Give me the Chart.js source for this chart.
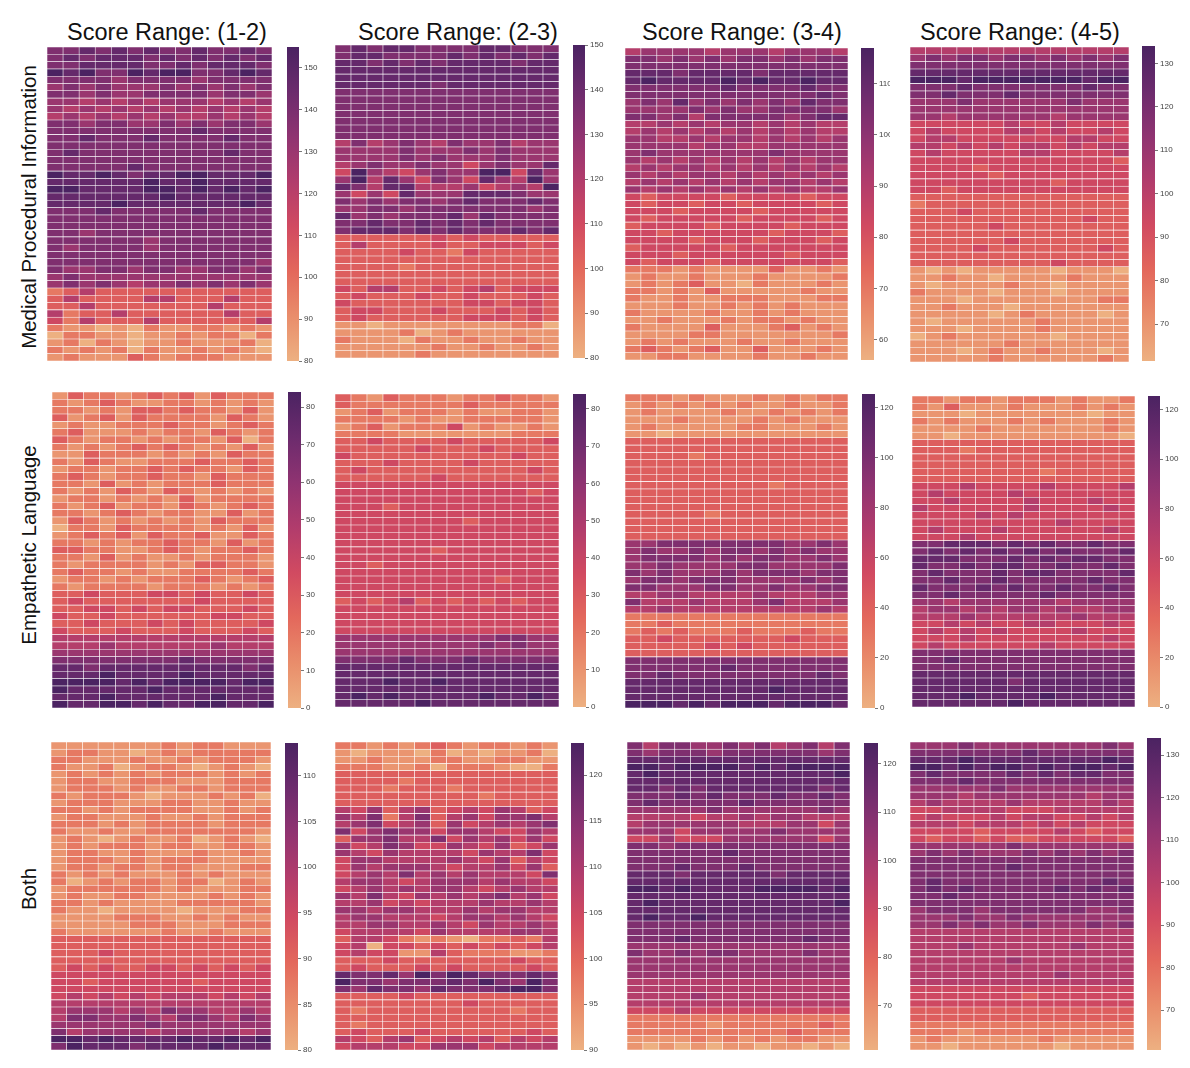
<!DOCTYPE html>
<html>
<head>
<meta charset="utf-8">
<script src="https://cdn.jsdelivr.net/npm/chart.js@4.4.1/dist/chart.umd.min.js"></script>
<style>
html,body{margin:0;padding:0;background:#fff;}
body{width:1190px;height:1068px;position:relative;overflow:hidden;font-family:"Liberation Sans",Arial,Helvetica,sans-serif;}
.box{position:absolute;}
.box canvas{display:block;}
.colTitle{position:absolute;width:260px;text-align:center;font-size:23.5px;line-height:26px;color:#111;white-space:nowrap;}
.rowTitle{position:absolute;width:400px;text-align:center;font-size:20.5px;line-height:24px;color:#111;white-space:nowrap;transform:translate(-50%,-50%) rotate(-90deg);}
</style>
</head>
<body>
<script>
// ---------------- DATA ----------------
// Column headers (score ranges) and row headers (prompt types)
const scoreRanges = ['Score Range: (1-2)', 'Score Range: (2-3)', 'Score Range: (3-4)', 'Score Range: (4-5)'];
const promptTypes = ['Medical Procedural Information', 'Empathetic Language', 'Both'];
// 14 columns per heatmap
const columns = ['1','2','3','4','5','6','7','8','9','10','11','12','13','14'];
// Colour-bar ranges [min, max] and tick steps, panels in reading order
const colorbarRanges = [[80,155],[80,150],[56,117],[61.5,134],[0,84],[0,84],[0,125.5],[0,125.5],[80,113.6],[90,123.5],[60.8,124.3],[60.6,134]];
const colorbarSteps = [10,10,10,10,10,10,20,20,5,5,10,10];

// Cell values, one string per row (top to bottom), one digit per column.
// Digit d = level on that panel's colour bar: value = min + d*(max-min)/9.
const medical_1_2 = [
"77878787787787","78788878787878","77888877878887","98977989977898","77776777767777",
"67676667676767","77676677776776","66565656665656","65656565656565","56565656556565",
"77677667676776","77777777787777","77877787777877","77777777777777","78777777777877",
"77777777777777","77777877777777","98898788998889","88888898898888","99888899898989",
"88888889888888","88889888888898","77787777787777","77777777777777","77777777777777",
"77677777777777","77777767777777","76777767777777","77777777777777","77777777777776",
"76677677667767","67666666666666","67676566767676","23533333333333","35333355333533",
"33533333335333","52335333333533","42533353333335","21101021122121","02211011212202",
"12021011211120","21212021121210","12111321222111"];
const medical_2_3 = [
"78788777788777","78877778787878","88787878888788","88888888888888","88888888888888",
"88888878888888","77777777777777","77777777777777","77777777777777","77777777777777",
"77777777777777","77777777777777","77777777777777","57567657667566","66667666767666",
"66667676667666","56766766467668","49654676699486","69586476486596","87588555645659",
"64648666888766","76767767877787","66776777777767","86767778687777","77877878787777",
"78887878777878","33333343433333","35333343344434","33334332433333","33333333333333",
"33332333333333","33333333333333","33333333333333","43553343453444","34333433433343",
"43333333443443","34433343334343","34333333444343","11011111111220","11112012111111",
"21110211211211","11111121121121","11111211111111"];
const medical_3_4 = [
"56666566656665","77676767767677","77777777777777","88878888788888","89888898988988",
"77777787777877","77777777777787","67686767676877","66667676677776","77675777776788",
"55656566565655","56565656565655","66556566565656","66665665566666","67666666676666",
"65656565656566","56566565656565","65656656565656","56565656566565","65656565656556",
"43444434444344","43443443444434","44434444344444","43444443444434","34444344443444",
"44344444434443","44443444344434","34444434444444","44434444443444","43444344444443",
"22212111131121","12112111211112","12123110211121","22121311111211","21121122211122",
"11121121212111","21111211212111","11211121221211","21111311123121","11112211111112",
"12121112112111","23212311311121","11221111211211"];
const medical_4_5 = [
"55555555555555","67677677676767","77777777777777","88888888888888","99989999999899",
"77787777777877","77877787777777","66676666667666","66666666666666","66566666656666",
"44444454454444","45444455454454","45544444445544","55454545545455","45444445544445",
"44444444444443","44443444444444","44444344444444","44444444434444","44344444444444",
"33333333333333","23333333333333","33343333333333","33333333333433","33333433333333",
"33333333333333","33333343333333","33334333333343","33333333333333","33333333343333",
"10101111101110","11211011112111","10111121101111","21111011101111","11101111111122",
"11211101111111","11111012111101","10111111211111","11101111211111","01211111101111",
"11111121111111","11101211211101","11111211111121"];
const empathetic_1_2 = [
"13221232313222","21232112212121","22121332322131","31231322221321","12112223221232",
"23111212213212","32122121221302","21212323212131","11322212121322","21321122232232",
"12212232322132","23212232213222","22131212223222","21213213212121","12212121312222",
"21231221321232","22123212211312","13212121213222","02213222212131","12323132231132",
"22121223221312","33221123212232","22131211212221","21222212133221","23221211222232",
"12212122232123","21222212221212","33433344343343","34333333343333","33443434433343",
"43343333334433","33433343433334","43334333433343","55555555555555","55565555556555",
"66666666666666","77777777877777","88788888888878","88898888988888","99998989999899",
"98888898888888","88898888889888","98899898899889"];
const empathetic_2_3 = [
"32132221223221","32222222322222","12312221211221","22221211222221","12312224121121",
"22221111111222","33433334333334","33333433343333","43333333333433","33343333433333",
"34333333333343","33333343333333","44444444444444","44444444444434","44444444444444",
"44434444444444","44444444444444","44444444344444","44444444444444","44444444444444",
"44444444444444","44444434444444","44444444444444","44344444444444","44444444444444",
"44444444443444","44444444444444","44444444444444","34345343434344","44444444444444",
"44444444444444","44444444444444","44444444444444","66666666667766","66666666676766",
"66666666666666","77778777877777","88888888888888","88888888888888","88898898888888",
"88888888888888","89898888898898","88888988888888"];
const empathetic_3_4 = [
"22212111212122","12121212112112","12111121121212","11121111212111","12111112211121",
"11011111111111","33333333333333","33333333333333","33332333333333","33333333333333",
"33333333333333","33333333333333","33333333323333","33333333333333","33333333333333",
"33333333333333","33333233333333","33333333333333","33333333333333","33333333333333",
"66777777776676","67667677676766","67777676776676","66766667766667","76766676777677",
"67767776666767","77666776676677","55665555655566","75556555675556","55655555555565",
"22222222222222","22322222222222","23232223222322","33433333334333","33333434333333",
"33333333333333","77777777777777","77777787777777","77877777777787","88888888888888",
"88888888898888","88888888888888","99989899989998"];
const empathetic_4_5 = [
"22122122212112","21311121112121","11101111111011","21211121211121","11112111111121",
"11011111111110","33333333333333","33323333333333","33333333333333","33333333333333",
"33333333233333","33333333333333","44454444544445","45444454444444","44544445444544",
"54444445444454","44445454444444","44444444454444","45444544444454","44454444444444",
"77888787877877","78787878787778","88877787878877","87787887787787","78777878877778",
"77877877777877","87778787787787","77877777877777","66566666656666","56656566565566",
"55565555556555","44545445544454","45454544445444","44454444444454","45444444544444",
"77777777777777","77877777777777","77777777777777","88888888888888","88888878888888",
"88888888888888","88898888988888","88888898888888"];
const both_1_2 = [
"11111112122111","12211012122222","22111211212221","21120122101210","12121212221212",
"12211222111222","12221211221222","21222101112120","12221112211211","22121222211212",
"12211121121222","22212122221222","21121122222221","12101211201210","12122212211221",
"12211211121121","12221212221111","12212212211122","21212111212111","20121221220121",
"12222221211122","12112211112121","22121111222221","21101111011122","11112221121211",
"11111222111222","21111112112111","33333333333333","33333333333333","33343333333333",
"33333333333333","34343344343434","44444444444444","44344444434444","44444444444444",
"45454545554545","55555555555555","56665657665565","57766765776576","66666676666666",
"75666656666656","99898888988989","79888788889888"];
const both_2_3 = [
"22121232122121","10111020101120","11211122112211","22211202221002","33333333333333",
"33332333333333","33323332333333","33333333323333","33333333333333","54635634546534",
"65725735646675","56745636456567","74676646654465","36675574656464","64576446546346",
"65465555465574","46655556546354","46566654556463","45657565655547","56654566656554",
"45656566545655","65754656567564","55645455565565","66566555656655","56655545665654",
"55665565465565","45555465555665","35542121022325","45044343434345","45441153222112",
"33343333333433","34333434333343","87786979877787","97767778797697","76877687778997",
"33334333333333","33333333433333","32333333333233","33333333333333","32333333333333",
"34333433333343","54356345453545","45554466645555"];
const both_3_4 = [
"75776676756757","76777677777767","88888888888888","99899998989999","89888888888889",
"88888888888888","88787888888878","77787877787787","78777778777777","66666766666676",
"55554556566555","56666665556646","66646666676666","44644466666646","77677777777777",
"77777787777777","77777777777777","77787778777777","88878888878888","88888888888888",
"99898888999989","88888888888888","89888888888889","88888888888888","89889888888888",
"77777777777777","77777777777777","77787777777877","66666666666666","76676776666766",
"66666666666666","66666666666666","66666666666666","55555555555555","55555555555555",
"55556555555555","55555555555555","44454444444444","22222222222222","22222122222232",
"22222222223222","11112121212211","10101011011010"];
const both_4_5 = [
"66676666666676","77777778777777","88898888888898","99898998989989","78777787878877",
"77787777777777","66666766666666","66656666666566","56555565555565","44555544455555",
"45444545544545","55545554545444","44443444454344","43443433444443","66666676666666",
"67676667676767","77777777777777","77777787777777","77777777777777","78777777777787",
"78787777787878","77877777777777","77777777777777","67776777777667","66676676666666",
"66767667666767","55555555555555","55555555555555","55565555556555","55555555555555",
"55555565555555","55555555555555","55555555565555","55555555555555","44444444444444",
"44444443444444","44444444444444","33333333333333","33333333333333","22222222222222",
"22212222222222","12111111211111","11011111101111"];

const panelLevels = [medical_1_2, medical_2_3, medical_3_4, medical_4_5,
                     empathetic_1_2, empathetic_2_3, empathetic_3_4, empathetic_4_5,
                     both_1_2, both_2_3, both_3_4, both_4_5];

// ---------------- LAYOUT / STYLE ----------------
const heatmapBoxes = [[47,47,225,314],[335,45,224,313],[625,48,223,312],[910,47,219,315],
                      [52,392,222,316],[335,394,224,313],[625,394,223,314],[912,396,223,311],
                      [51,742,220,308],[335,742,223,308],[627,742,223,308],[910,742,224,308]];
const colorbarBoxes = [[287,47,12,314],[573,45,12,313],[861,48,13,312],[1142,46,13,315],
                       [288,392,13,316],[573,394,13,313],[862,394,13,314],[1148,396,12,311],
                       [285,743,13,307],[571,743,13,307],[864,743,14,307],[1147,738,14,312]];
const colorbarLabelWidths = [26,26,16,30,26,26,26,26,26,26,26,26];
const colTitleCenters = [167,458,742,1020];
const rowTitleCenters = [[29,207],[29,545],[29,889]];

const flareStops = [[0,[237,176,129]],[0.143,[233,141,107]],[0.286,[227,104,92]],[0.429,[209,74,97]],
                    [0.571,[177,60,108]],[0.714,[143,51,113]],[0.857,[108,43,109]],[1,[75,35,98]]];
function cmap(t){
  t = Math.max(0, Math.min(1, t));
  for (let i = 1; i < flareStops.length; i++) {
    const [p1,c1] = flareStops[i-1], [p2,c2] = flareStops[i];
    if (t <= p2) {
      const f = (t - p1) / (p2 - p1);
      const c = c1.map((v,k) => Math.round(v + (c2[k]-v)*f));
      return `rgb(${c[0]},${c[1]},${c[2]})`;
    }
  }
  const c = flareStops[flareStops.length-1][1];
  return `rgb(${c[0]},${c[1]},${c[2]})`;
}

function addCanvas(x,y,w,h){
  const div = document.createElement('div');
  div.className = 'box';
  div.style.cssText = `left:${x}px;top:${y}px;width:${w}px;height:${h}px;overflow:hidden;`;
  const cv = document.createElement('canvas');
  cv.width = w; cv.height = h;
  cv.style.width = w + 'px'; cv.style.height = h + 'px';
  div.appendChild(cv);
  document.body.appendChild(div);
  return cv;
}

// titles
scoreRanges.forEach((t,i) => {
  const d = document.createElement('div');
  d.className = 'colTitle';
  d.textContent = t;
  d.style.left = (colTitleCenters[i] - 130) + 'px';
  d.style.top = '19px';
  document.body.appendChild(d);
});
promptTypes.forEach((t,i) => {
  const d = document.createElement('div');
  d.className = 'rowTitle';
  d.textContent = t;
  d.style.left = rowTitleCenters[i][0] + 'px';
  d.style.top = rowTitleCenters[i][1] + 'px';
  document.body.appendChild(d);
});

// heatmaps (stacked bars: one dataset per row, one bar per column)
panelLevels.forEach((levels, p) => {
  const [x,y,w,h] = heatmapBoxes[p];
  const [lo,hi] = colorbarRanges[p];
  const cv = addCanvas(x,y,w,h);
  const nRows = levels.length;
  const datasets = [];
  for (let r = nRows - 1; r >= 0; r--) {
    const vals = levels[r].split('').slice(0, columns.length).map(d => lo + (+d) * (hi - lo) / 9);
    datasets.push({
      label: 'row ' + (r + 1),
      data: vals.map(() => 1),
      backgroundColor: vals.map(v => cmap((v - lo) / (hi - lo))),
      borderColor: 'rgba(255,255,255,0.82)',
      borderWidth: 0.6,
      borderSkipped: false,
      barPercentage: 1,
      categoryPercentage: 1
    });
  }
  new Chart(cv, {
    type: 'bar',
    data: { labels: columns, datasets },
    options: {
      responsive: false, animation: false, events: [],
      layout: { padding: 0 },
      plugins: { legend: { display: false }, tooltip: { enabled: false } },
      scales: {
        x: { stacked: true, display: false },
        y: { stacked: true, display: false, min: 0, max: nRows }
      }
    }
  });
});

// colour bars
colorbarRanges.forEach(([lo,hi], p) => {
  const [x,y,w,h] = colorbarBoxes[p];
  const lw = colorbarLabelWidths[p];
  const pad = 8;
  const cv = addCanvas(x, y - pad, w + lw, h + 2*pad);
  new Chart(cv, {
    type: 'bar',
    data: { labels: [''], datasets: [{
      data: [[lo, hi]],
      backgroundColor: (ctx) => {
        const ca = ctx.chart.chartArea;
        if (!ca) return '#b13c6c';
        const g = ctx.chart.ctx.createLinearGradient(0, ca.bottom, 0, ca.top);
        flareStops.forEach(([pos,c]) => g.addColorStop(pos, `rgb(${c[0]},${c[1]},${c[2]})`));
        return g;
      },
      borderWidth: 0, barPercentage: 1, categoryPercentage: 1
    }]},
    options: {
      responsive: false, animation: false, events: [],
      layout: { padding: { top: pad, bottom: pad, left: 0, right: 0 } },
      plugins: { legend: { display: false }, tooltip: { enabled: false } },
      scales: {
        x: { display: false },
        y: {
          position: 'right', min: lo, max: hi,
          afterFit: (s) => { s.width = lw; },
          border: { display: false },
          grid: { drawOnChartArea: false, drawTicks: true, tickLength: 3, color: '#555', lineWidth: 0.8 },
          ticks: { stepSize: colorbarSteps[p], includeBounds: false, color: '#444', padding: 2,
                   font: { size: 8, family: '"Liberation Sans", Arial, sans-serif' } }
        }
      }
    }
  });
});
</script>
</body>
</html>
